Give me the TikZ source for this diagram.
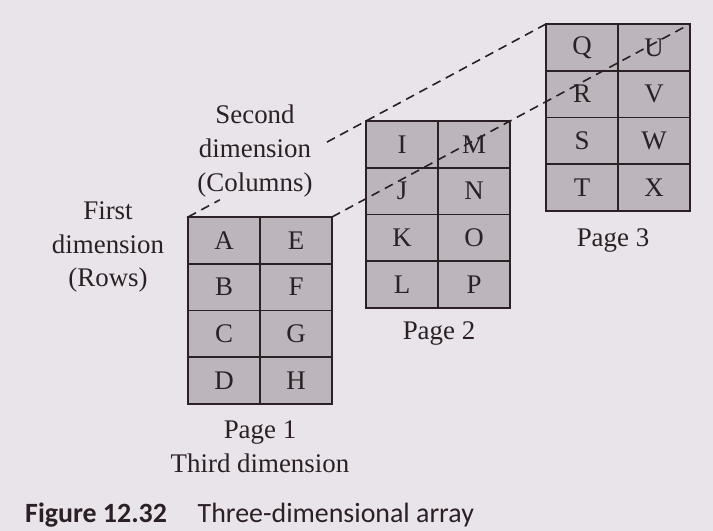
\documentclass[tikz,border=0pt]{standalone}
\usepackage{fontspec}
\setmainfont{Liberation Serif}
\newfontfamily\capfont{Carlito}
\usetikzlibrary{calc}
\definecolor{paper}{RGB}{233,228,233}
\definecolor{cellfill}{RGB}{188,182,188}
\definecolor{ink}{RGB}{42,32,38}
\newcommand\pagegrid[3]{%
  \foreach \L [count=\k from 0] in {#3}{%
    \pgfmathtruncatemacro\cc{int(\k/4)}%
    \pgfmathtruncatemacro\rr{mod(\k,4)}%
    \node[cellbox] (\L) at ({#1+36+72*\cc},{#2+23.375+46.75*\rr}) {\L};
  }}
\begin{document}
\begin{tikzpicture}[x=1bp,y=-1bp,
  cellbox/.style={draw=ink,fill=cellfill,line width=1.8bp,minimum width=72bp,minimum height=46.75bp,inner sep=0pt,outer sep=0pt,text=ink,font=\fontsize{27}{30}\selectfont},
  lbl/.style={align=center,text=ink,font=\fontsize{27}{34}\selectfont,inner sep=0pt},
  dashline/.style={draw=ink,line width=1.6bp,dash pattern=on 9bp off 6bp}]
\fill[paper] (0,0) rectangle (713,531);
\useasboundingbox (0,0) rectangle (713,531);
\pagegrid{188}{217}{A,B,C,D,E,F,G,H}
\pagegrid{366}{121}{I,J,K,L,M,N,O,P}
\pagegrid{546}{24}{Q,R,S,T,U,V,W,X}
\draw[dashline] (A.north west) -- ($(A.north west)!0.089!(Q.north west)$);
\draw[dashline] ($(A.north west)!0.388!(Q.north west)$) -- (Q.north west);
\draw[dashline] (E.north east) -- (U.north east);
\node[lbl] (second) at (255,151) {Second\\dimension\\(Columns)};
\node[lbl] (first) at (108,247) {First\\dimension\\(Rows)};
\node[lbl] (p1) at (260,447) {Page 1\\Third dimension};
\node[lbl] (p2) at (439,333) {Page 2};
\node[lbl] (p3) at (613,240) {Page 3};
\node[anchor=base west,inner sep=0pt,text=ink,font=\capfont\fontsize{28}{30}\selectfont] (cap) at (25,522) {\textbf{Figure 12.32}\hspace{1.1em}Three-dimensional array};
\end{tikzpicture}
\end{document}
